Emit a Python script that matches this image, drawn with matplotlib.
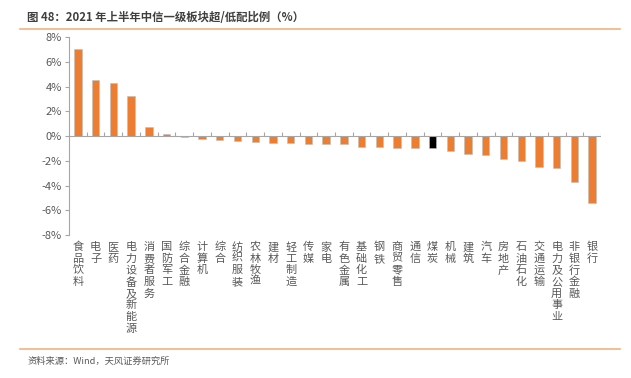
import matplotlib
matplotlib.use("Agg")
import matplotlib.pyplot as plt

plt.rcParams['font.family'] = ['Noto Sans CJK SC', 'DejaVu Sans']

sectors = ["食品饮料", "电子", "医药", "电力设备及新能源", "消费者服务", "国防军工",
           "综合金融", "计算机", "综合", "纺织服装", "农林牧渔", "建材", "轻工制造",
           "传媒", "家电", "有色金属", "基础化工", "钢铁", "商贸零售", "通信", "煤炭",
           "机械", "建筑", "汽车", "房地产", "石油石化", "交通运输", "电力及公用事业",
           "非银行金融", "银行"]
weights = [7.03, 4.53, 4.26, 3.23, 0.75, 0.13, -0.11, -0.24, -0.35, -0.40, -0.49,
           -0.54, -0.59, -0.67, -0.67, -0.67, -0.86, -0.92, -0.94, -0.94, -1.00,
           -1.19, -1.43, -1.51, -1.89, -1.99, -2.48, -2.59, -3.75, -5.42]
yticks = [-8, -6, -4, -2, 0, 2, 4, 6, 8]

orange = "#ED7D31"
axis_gray = "#A6A6A6"
text_gray = "#595959"

fig = plt.figure(figsize=(6.31, 3.78), dpi=100)
ax = fig.add_axes([0.1094, 0.3783, 0.8431, 0.5238])

x = list(range(len(sectors)))
colors = ["black" if s == "煤炭" else orange for s in sectors]
ax.bar(x, weights, width=0.42, color=colors, edgecolor="#BFBFBF", linewidth=0.4, zorder=2)

ax.set_xlim(-0.5, len(sectors) - 0.5)
ax.set_ylim(-8, 8)
ax.set_yticks(yticks)
ax.set_yticklabels([f"{v}%" for v in yticks], fontsize=8, color=text_gray)
ax.tick_params(axis="y", length=3, color=axis_gray, pad=2)
ax.set_xticks([])

for side in ["top", "right", "bottom"]:
    ax.spines[side].set_visible(False)
ax.spines["left"].set_color(axis_gray)
ax.spines["left"].set_linewidth(0.8)

# zero line with small ticks between categories
ax.axhline(0, color=axis_gray, linewidth=0.8, zorder=3)
ax.vlines([i + 0.5 for i in x], 0, 0.32, color=axis_gray, linewidth=0.8, zorder=3)

# vertical category labels
for i, name in enumerate(sectors):
    for j, ch in enumerate(name):
        ax.annotate(ch, xy=(i, 0), xycoords=("data", "axes fraction"),
                    xytext=(0, -5 - j * 8.4), textcoords="offset points",
                    ha="center", va="top", fontsize=8, color=text_gray)

# title, rules, source
fig.text(0.043, 0.972, "图 48：2021 年上半年中信一级板块超/低配比例（%）",
         fontsize=8.2, fontweight="bold", color="#3F3F3F", va="top")
fig.add_artist(plt.Line2D([0.032, 0.982], [0.924, 0.924], color="#F4B183", linewidth=1.2))
fig.add_artist(plt.Line2D([0.032, 0.982], [0.077, 0.077], color="#F4B183", linewidth=1.2))
fig.text(0.043, 0.045, "资料来源：Wind，天风证券研究所", fontsize=6.7, color=text_gray, va="center")

fig.savefig("out.png", dpi=100)
